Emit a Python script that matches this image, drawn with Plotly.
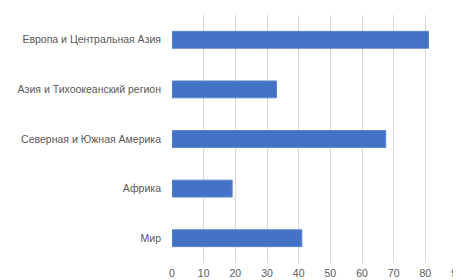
import plotly.graph_objects as go

categories = ["Европа и Центральная Азия", "Азия и Тихоокеанский регион",
              "Северная и Южная Америка", "Африка", "Мир"]
values = [81, 33, 67.5, 19, 41]
x_ticks = [0, 10, 20, 30, 40, 50, 60, 70, 80, 90]

fig = go.Figure(go.Bar(
    y=categories, x=values, orientation="h",
    marker=dict(color="#4472C4", line=dict(color="#5b86cf", width=1)),
    width=0.34,
))

# page body has an 8px margin, so the figure is offset by 8px
fig.update_layout(
    width=453, height=272,
    margin=dict(l=164, r=4, t=7, b=17, autoexpand=False),
    paper_bgcolor="white", plot_bgcolor="white",
    font=dict(family="Liberation Sans", size=10.5, color="#595959"),
    showlegend=False,
    xaxis=dict(range=[0, 90], tickvals=x_ticks, showgrid=True,
               gridcolor="#d9d9d9", gridwidth=1, zeroline=False,
               showline=False, ticks="", ticklabelstandoff=2,
               ticklabeloverflow="allow", automargin=False),
    yaxis=dict(categoryorder="array", categoryarray=categories,
               autorange="reversed", showgrid=False, showline=False,
               ticks="", ticklabelstandoff=10, automargin=False),
)

fig.write_html("out.html")
